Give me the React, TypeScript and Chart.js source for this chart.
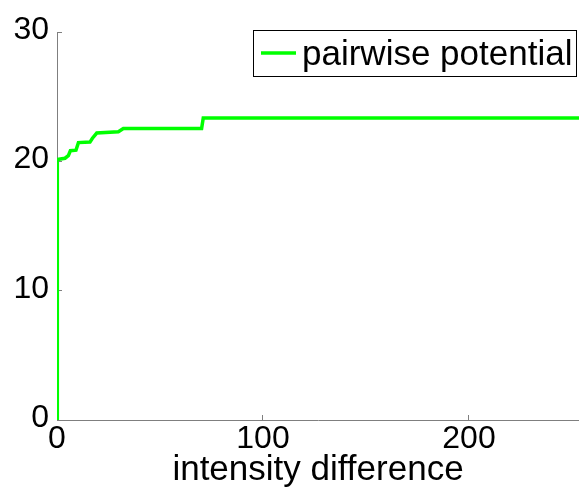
import React, { useEffect, useRef } from "react";
import { Chart, registerables } from "chart.js";

Chart.register(...registerables);

const xValues = [0, 0.15, 3.9, 5.5, 6.5, 9.2, 10.4, 16, 17.2, 19.3, 29.8, 32.2, 70.2, 71, 253.4];
const yValues = [0, 20.15, 20.25, 20.45, 20.83, 20.87, 21.46, 21.5, 21.8, 22.2, 22.3, 22.55, 22.55, 23.36, 23.36];
const xTicks = [0, 100, 200];
const yTicks = [0, 10, 20, 30];
const seriesLabel = "pairwise potential";
const xTitle = "intensity difference";

const FONT = '"Liberation Sans", Arial, Helvetica, sans-serif';

const legendPlugin = {
  id: "boxLegend",
  afterDraw(chart: any) {
    const ctx = chart.ctx;
    ctx.save();
    const x0 = 253.5, y0 = 30.5, w = 323, h = 46;
    ctx.fillStyle = "#ffffff";
    ctx.fillRect(x0, y0, w, h);
    ctx.strokeStyle = "#000000";
    ctx.lineWidth = 1;
    ctx.strokeRect(x0, y0, w, h);
    ctx.strokeStyle = "#00ff00";
    ctx.lineWidth = 3.5;
    ctx.beginPath();
    ctx.moveTo(261, 53);
    ctx.lineTo(296, 53);
    ctx.stroke();
    ctx.fillStyle = "#000000";
    ctx.font = `35px ${FONT}`;
    ctx.textBaseline = "alphabetic";
    ctx.textAlign = "left";
    ctx.fillText(seriesLabel, 302, 65);
    ctx.restore();
  },
};

export default function App() {
  const ref = useRef<HTMLCanvasElement>(null);
  useEffect(() => {
    if (!ref.current) return;
    const data = xValues.map((x, i) => ({ x, y: yValues[i] }));
    const chart = new Chart(ref.current, {
      type: "line",
      data: {
        datasets: [
          {
            label: seriesLabel,
            data,
            borderColor: "#00ff00",
            backgroundColor: "#00ff00",
            borderWidth: 3.5,
            pointRadius: 0,
            tension: 0,
            fill: false,
          },
        ],
      },
      options: {
        animation: false,
        responsive: false,
        layout: { padding: { top: 24, right: 0, left: 0, bottom: 0 } },
        plugins: { legend: { display: false }, tooltip: { enabled: false } },
        scales: {
          x: {
            type: "linear",
            min: 0,
            max: 253.4,
            afterBuildTicks: (s: any) => {
              s.ticks = xTicks.map((v) => ({ value: v }));
            },
            afterFit: (s: any) => {
              s.height = 79;
            },
            grid: { drawOnChartArea: false, tickLength: -5, color: "#7f7f7f", lineWidth: 1 },
            border: { display: true, color: "#7f7f7f", width: 1 },
            ticks: { font: { size: 32, family: FONT }, color: "#000", padding: 5, maxRotation: 0 },
            title: {
              display: true,
              text: xTitle,
              font: { size: 35, family: FONT },
              color: "#000",
              padding: { top: 0, bottom: 8 },
            },
          },
          y: {
            type: "linear",
            min: 0,
            max: 30,
            afterBuildTicks: (s: any) => {
              s.ticks = yTicks.map((v) => ({ value: v }));
            },
            afterFit: (s: any) => {
              s.width = 57;
            },
            grid: { drawOnChartArea: false, tickLength: -5, color: "#7f7f7f", lineWidth: 1 },
            border: { display: true, color: "#7f7f7f", width: 1 },
            ticks: { font: { size: 32, family: FONT }, color: "#000", padding: 13, labelOffset: -2 },
          },
        },
      },
      plugins: [legendPlugin],
    } as any);
    return () => chart.destroy();
  }, []);
  return (
    <div style={{ position: "absolute", left: 0, top: 0, width: 579, height: 499, background: "#fff" }}>
      <canvas ref={ref} width={579} height={499} />
    </div>
  );
}
